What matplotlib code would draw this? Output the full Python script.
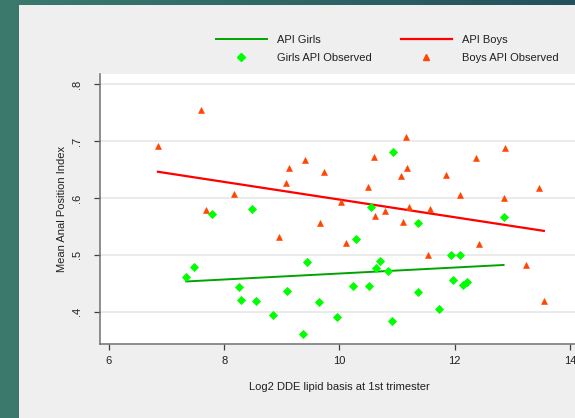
import numpy as np
import matplotlib
matplotlib.use("Agg")
import matplotlib.pyplot as plt
from matplotlib.patches import Rectangle
from matplotlib.lines import Line2D

plt.rcParams['font.family'] = ['Liberation Sans', 'DejaVu Sans']

boys_x = [6.85, 7.59, 8.165, 7.68, 11.16, 9.40, 9.12, 10.60, 9.73, 11.17, 11.07,
          9.08, 10.50, 10.03, 11.20, 12.875, 12.38, 11.85, 13.47, 12.09, 12.86,
          11.57, 10.80, 10.62, 11.11, 9.66, 8.96, 10.11, 12.42, 11.53, 13.24, 13.55]
boys_y = [0.692, 0.755, 0.607, 0.579, 0.707, 0.667, 0.653, 0.672, 0.646, 0.652, 0.639,
          0.626, 0.620, 0.593, 0.584, 0.688, 0.670, 0.641, 0.618, 0.606, 0.600,
          0.581, 0.577, 0.568, 0.558, 0.556, 0.531, 0.521, 0.519, 0.500, 0.482, 0.419]

girls_x = [10.93, 10.55, 8.49, 7.79, 7.48, 7.34, 8.26, 8.29, 8.56, 10.29, 9.44,
           10.70, 10.63, 10.84, 10.24, 10.51, 9.09, 9.64, 8.84, 9.95, 10.91, 9.36,
           12.85, 11.37, 11.93, 12.09, 11.97, 12.15, 12.21, 11.36, 11.73]
girls_y = [0.680, 0.584, 0.581, 0.571, 0.479, 0.460, 0.444, 0.421, 0.418, 0.527, 0.487,
           0.489, 0.477, 0.472, 0.445, 0.445, 0.437, 0.417, 0.394, 0.390, 0.384, 0.360,
           0.567, 0.555, 0.500, 0.500, 0.455, 0.447, 0.452, 0.435, 0.404]

# fitted lines (end points)
boys_fit_x = [6.85, 13.55]
boys_fit_y = [0.646, 0.542]
girls_fit_x = [7.34, 12.85]
girls_fit_y = [0.453, 0.482]

x_ticks = [6, 8, 10, 12, 14]
y_ticks = [0.4, 0.5, 0.6, 0.7, 0.8]
y_tick_labels = ['.4', '.5', '.6', '.7', '.8']

W, H = 575, 418
fig = plt.figure(figsize=(W / 100, H / 100), dpi=100)

# slide background: teal gradient with a grey panel
bg = fig.add_axes([0, 0, 1, 1], zorder=-10)
grad = np.linspace(0, 1, 256)[None, :]
teal = matplotlib.colors.LinearSegmentedColormap.from_list('teal', ['#3b7a6d', '#2e6766', '#23505c'])
bg.imshow(grad, cmap=teal, aspect='auto', extent=[0, 1, 0, 1])
bg.add_patch(Rectangle((19 / W, 0), 1, (H - 5) / H, color='#efefef', lw=0))
bg.set_xlim(0, 1)
bg.set_ylim(0, 1)
bg.axis('off')

ax = fig.add_axes([100 / W, 74 / H, 479 / W, 270 / H])
ax.set_facecolor('white')

ax.plot(girls_fit_x, girls_fit_y, color='#00a300', lw=1.4, zorder=3)
ax.plot(boys_fit_x, boys_fit_y, color='#ff0000', lw=1.6, zorder=3)
ax.plot(girls_x, girls_y, ls='none', marker='D', ms=3.7, color='#00ff00',
        mec='#00ff00', mew=0.6, zorder=4)
ax.plot(boys_x, boys_y, ls='none', marker='^', ms=4.8, color='#ff4500',
        mec='#ff4500', mew=0.4, zorder=4)

ax.set_xlim(5.844, 14.16)
ax.set_ylim(0.343, 0.818)
ax.set_xticks(x_ticks)
ax.set_xticklabels([str(t) for t in x_ticks])
ax.set_yticks(y_ticks)
ax.set_yticklabels(y_tick_labels, rotation=90, va='center')
ax.grid(axis='y', color='#e6e6e6', lw=1.1)
ax.set_axisbelow(True)

for s in ['top', 'right']:
    ax.spines[s].set_visible(False)
for s in ['left', 'bottom']:
    ax.spines[s].set_color('#707070')
    ax.spines[s].set_linewidth(1.1)
ax.tick_params(axis='both', colors='#404040', labelcolor='#202020', labelsize=8,
               length=4.5, width=0.9)
ax.tick_params(axis='y', pad=8.5)
ax.tick_params(axis='x', pad=4)

ax.set_xlabel('Log2 DDE lipid basis at 1st trimester', fontsize=8, color='#202020')
ax.xaxis.set_label_coords(0.5, -43 / 270)
ax.xaxis.label.set_va('center')
ax.set_ylabel('Mean Anal Position Index', fontsize=8, color='#202020')
ax.yaxis.set_label_coords(-38 / 479, 0.5)
ax.yaxis.label.set_va('center')

handles = [
    Line2D([], [], color='#00a300', lw=1.4),
    Line2D([], [], ls='none', marker='D', ms=3.7, color='#00ff00'),
    Line2D([], [], color='#ff0000', lw=1.6),
    Line2D([], [], ls='none', marker='^', ms=4.8, color='#ff4500'),
]
labels = ['API Girls', 'Girls API Observed', 'API Boys', 'Boys API Observed']
fig.legend(handles, labels, ncol=2, loc='center', bbox_to_anchor=(387 / W, 1 - 49 / H),
           frameon=False, fontsize=8, handlelength=4.6, handletextpad=0.9,
           columnspacing=2.6, labelspacing=0.75, labelcolor='#202020')

fig.savefig('out.png', dpi=100)
